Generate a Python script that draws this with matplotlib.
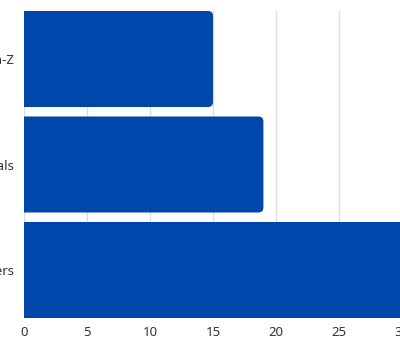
import matplotlib
matplotlib.use("Agg")
import matplotlib.pyplot as plt
from matplotlib.path import Path
from matplotlib.patches import PathPatch

categories = ["Gen-Z", "Millennials", "Boomers"]
values = [15, 19, 33]
xticks = [0, 5, 10, 15, 20, 25, 30]

BAR_COLOR = "#0047AB"
plt.rcParams["font.family"] = ["Noto Sans", "DejaVu Sans"]

W, H = 400, 338
fig = plt.figure(figsize=(W / 100, H / 100), dpi=100)
left_px, top_px, bottom_px = 24, 11, 318
px_per_unit = 12.6
xmax = 32
ax = fig.add_axes([left_px / W, (H - bottom_px) / H,
                   xmax * px_per_unit / W, (bottom_px - top_px) / H])

h = 0.91
ypos = list(range(len(categories)))
bars = ax.barh(ypos, values, height=h, color=BAR_COLOR)
ax.set_xlim(0, xmax)
ax.set_ylim(len(categories) - 1 + h / 2, -h / 2)

# rounded right corners
r_px = 5
unit_y_px = (bottom_px - top_px) / (len(categories) - 1 + h)
rx = r_px / px_per_unit
ry = r_px / unit_y_px
for b in bars:
    x0, y0, w, hh = b.get_x(), b.get_y(), b.get_width(), b.get_height()
    x1, y1 = x0 + w, y0 + hh
    b.set_visible(False)
    verts = [(x0, y0), (x1 - rx, y0), (x1, y0), (x1, y0 + ry),
             (x1, y1 - ry), (x1, y1), (x1 - rx, y1), (x0, y1), (x0, y0)]
    codes = [Path.MOVETO, Path.LINETO, Path.CURVE3, Path.CURVE3,
             Path.LINETO, Path.CURVE3, Path.CURVE3, Path.LINETO, Path.CLOSEPOLY]
    ax.add_patch(PathPatch(Path(verts, codes), facecolor=BAR_COLOR,
                           edgecolor="none", zorder=3))

ax.set_yticks(ypos)
ax.set_yticklabels(categories)
ax.set_xticks(xticks)
ax.set_xticklabels([str(t) for t in xticks])
ax.tick_params(length=0, labelsize=9.5, labelcolor="#333333")
ax.tick_params(axis="y", pad=7)
ax.tick_params(axis="x", pad=5.5)
ax.grid(axis="x", color="#dddddd", linewidth=1)
ax.set_axisbelow(True)
for s in ax.spines.values():
    s.set_visible(False)

fig.savefig("out.png", dpi=100)
